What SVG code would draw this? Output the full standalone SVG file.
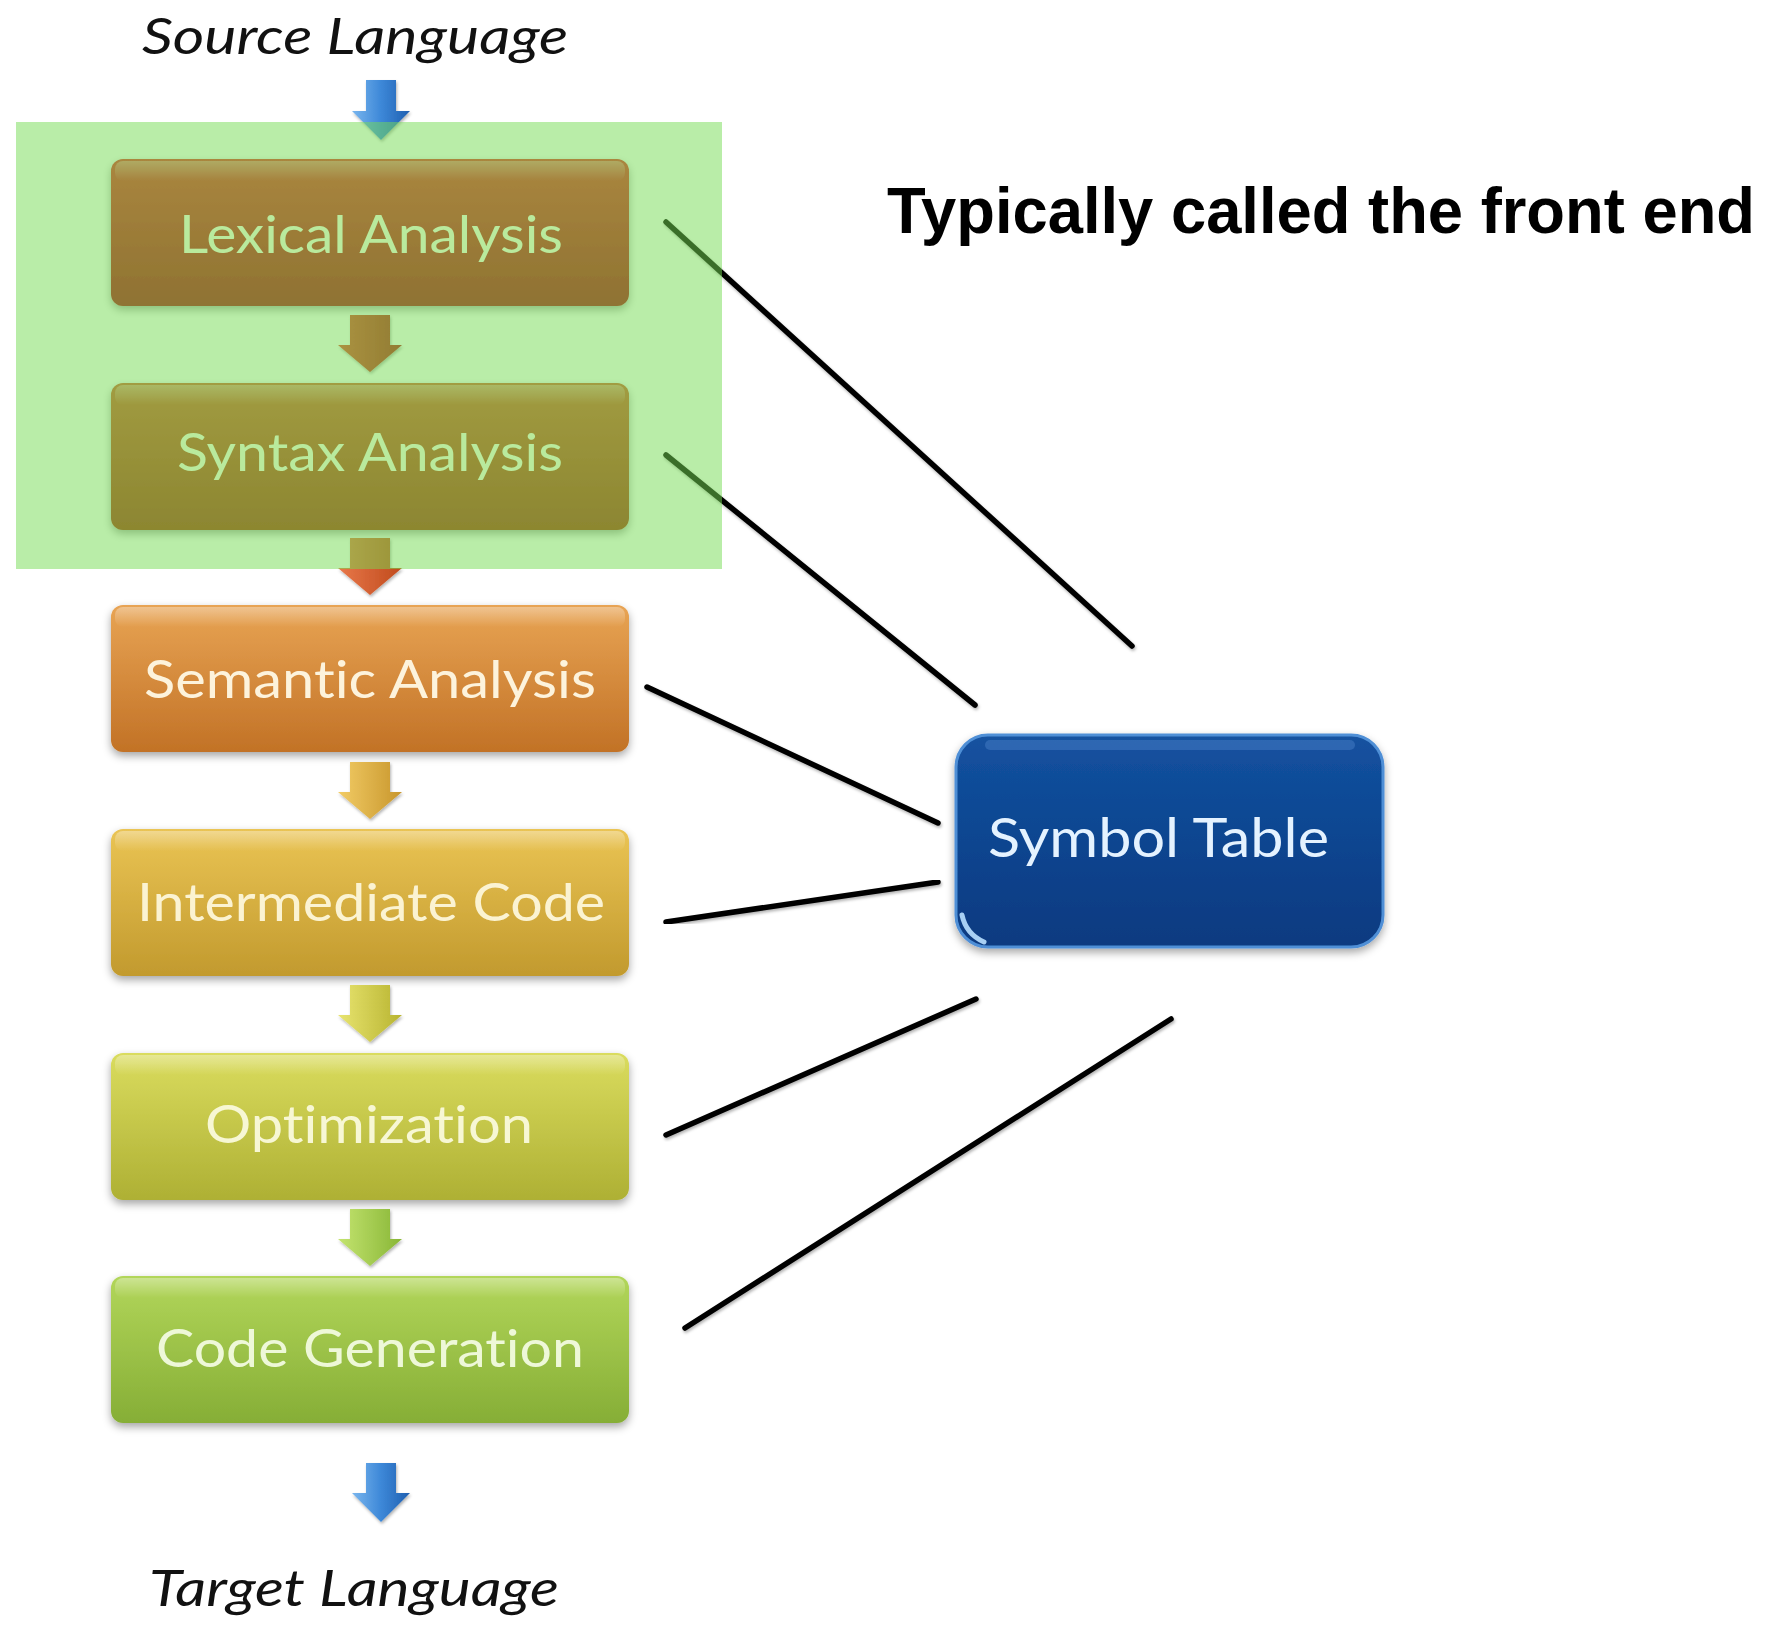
<svg xmlns="http://www.w3.org/2000/svg" width="1778" height="1625" viewBox="0 0 1778 1625">
<defs>
  <filter id="shadow" x="-10%" y="-10%" width="120%" height="130%">
    <feDropShadow dx="0" dy="4" stdDeviation="4" flood-color="#000" flood-opacity="0.35"/>
  </filter>
  <filter id="lshadow" x="-5%" y="-5%" width="110%" height="110%">
    <feDropShadow dx="1" dy="2" stdDeviation="1.5" flood-color="#000" flood-opacity="0.3"/>
  </filter>
  <linearGradient id="gLex" x1="0" y1="0" x2="0" y2="1"><stop offset="0" stop-color="#e0302c"/><stop offset="1" stop-color="#aa0a12"/></linearGradient>
  <linearGradient id="gSyn" x1="0" y1="0" x2="0" y2="1"><stop offset="0" stop-color="#cf5c30"/><stop offset="1" stop-color="#a53010"/></linearGradient>
  <linearGradient id="gSem" x1="0" y1="0" x2="0" y2="1"><stop offset="0" stop-color="#e8a454"/><stop offset="1" stop-color="#c27226"/></linearGradient>
  <linearGradient id="gInt" x1="0" y1="0" x2="0" y2="1"><stop offset="0" stop-color="#eac454"/><stop offset="1" stop-color="#c29a2e"/></linearGradient>
  <linearGradient id="gOpt" x1="0" y1="0" x2="0" y2="1"><stop offset="0" stop-color="#dadc5e"/><stop offset="1" stop-color="#aeb034"/></linearGradient>
  <linearGradient id="gCode" x1="0" y1="0" x2="0" y2="1"><stop offset="0" stop-color="#b2d65a"/><stop offset="1" stop-color="#86ae36"/></linearGradient>
  <linearGradient id="gSym" x1="0" y1="0" x2="0" y2="1"><stop offset="0" stop-color="#1452a0"/><stop offset="0.5" stop-color="#0c4590"/><stop offset="1" stop-color="#0a3a80"/></linearGradient>
  <linearGradient id="gBlue" x1="0" y1="0" x2="1" y2="0"><stop offset="0" stop-color="#7ab6ee"/><stop offset="0.5" stop-color="#3d88d8"/><stop offset="1" stop-color="#1f5fb0"/></linearGradient>
  <linearGradient id="a1" x1="0" y1="0" x2="1" y2="0"><stop offset="0" stop-color="#e24a30"/><stop offset="1" stop-color="#b01c14"/></linearGradient>
  <linearGradient id="a2" x1="0" y1="0" x2="1" y2="0"><stop offset="0" stop-color="#e8784a"/><stop offset="1" stop-color="#c04a1c"/></linearGradient>
  <linearGradient id="a3" x1="0" y1="0" x2="1" y2="0"><stop offset="0" stop-color="#f2cc66"/><stop offset="1" stop-color="#c8962c"/></linearGradient>
  <linearGradient id="a4" x1="0" y1="0" x2="1" y2="0"><stop offset="0" stop-color="#e8e470"/><stop offset="1" stop-color="#b8b430"/></linearGradient>
  <linearGradient id="a5" x1="0" y1="0" x2="1" y2="0"><stop offset="0" stop-color="#c4e470"/><stop offset="1" stop-color="#88b636"/></linearGradient>
  <linearGradient id="hl" x1="0" y1="0" x2="0" y2="1"><stop offset="0" stop-color="#ffffff" stop-opacity="0.35"/><stop offset="1" stop-color="#ffffff" stop-opacity="0"/></linearGradient>
</defs>
<style>
  .box { filter: url(#shadow); }
  .btxt { font-family: Lato, "Open Sans", "DejaVu Sans", sans-serif; font-size: 52px; font-variant-ligatures: none; }
  .lang { font-family: Lato, "Open Sans", "DejaVu Sans", sans-serif; font-style: italic; font-size: 50px; fill: #111; font-variant-ligatures: none; }
  .conn { stroke: #000; stroke-width: 5.5; stroke-linecap: round; fill: none; filter: url(#lshadow); }
  .flow { filter: url(#lshadow); }
</style>
<rect width="1778" height="1625" fill="#ffffff"/>

<g id="source-language">
  <text class="lang" x="142" y="54" textLength="426" lengthAdjust="spacingAndGlyphs">Source Language</text>
</g>

<g id="node-lexical">
  <rect class="box" x="111" y="159" width="518" height="147" rx="12" fill="url(#gLex)"/>
  <rect x="115" y="161" width="510" height="20" rx="8" fill="url(#hl)"/>
  <text class="btxt" x="179" y="253" fill="#fff8e8" textLength="384" lengthAdjust="spacingAndGlyphs">Lexical Analysis</text>
</g>
<g id="node-syntax">
  <rect class="box" x="111" y="383" width="518" height="147" rx="12" fill="url(#gSyn)"/>
  <rect x="115" y="385" width="510" height="20" rx="8" fill="url(#hl)"/>
  <text class="btxt" x="177" y="471" fill="#fff8e8" textLength="386" lengthAdjust="spacingAndGlyphs">Syntax Analysis</text>
</g>
<g id="node-semantic">
  <rect class="box" x="111" y="605" width="518" height="147" rx="12" fill="url(#gSem)"/>
  <rect x="115" y="607" width="510" height="20" rx="8" fill="url(#hl)"/>
  <text class="btxt" x="144" y="698" fill="#fdf3dc" textLength="452" lengthAdjust="spacingAndGlyphs">Semantic Analysis</text>
</g>
<g id="node-intermediate">
  <rect class="box" x="111" y="829" width="518" height="147" rx="12" fill="url(#gInt)"/>
  <rect x="115" y="831" width="510" height="20" rx="8" fill="url(#hl)"/>
  <text class="btxt" x="137" y="921" fill="#fbf3d2" textLength="468" lengthAdjust="spacingAndGlyphs">Intermediate Code</text>
</g>
<g id="node-optimization">
  <rect class="box" x="111" y="1053" width="518" height="147" rx="12" fill="url(#gOpt)"/>
  <rect x="115" y="1055" width="510" height="20" rx="8" fill="url(#hl)"/>
  <text class="btxt" x="205" y="1143" fill="#f7f7d4" textLength="328" lengthAdjust="spacingAndGlyphs">Optimization</text>
</g>
<g id="node-codegen">
  <rect class="box" x="111" y="1276" width="518" height="147" rx="12" fill="url(#gCode)"/>
  <rect x="115" y="1278" width="510" height="20" rx="8" fill="url(#hl)"/>
  <text class="btxt" x="156" y="1367" fill="#eef8d8" textLength="428" lengthAdjust="spacingAndGlyphs">Code Generation</text>
</g>

<g id="node-symbol-table">
  <rect class="box" x="956" y="735" width="427" height="212" rx="32" fill="url(#gSym)" stroke="#4f8fd6" stroke-width="3"/>
  <rect x="985" y="740" width="370" height="10" rx="5" fill="#5b93d8" opacity="0.35"/>
  <path d="M962,915 Q966,934 984,942" stroke="#a8d0f4" stroke-width="5" fill="none" stroke-linecap="round"/>
  <text x="988" y="857" font-family="Lato, 'Open Sans', 'DejaVu Sans', sans-serif" font-size="54" fill="#e4f2ff" textLength="341" lengthAdjust="spacingAndGlyphs">Symbol Table</text>
</g>

<g id="target-language">
  <text class="lang" x="149" y="1606" textLength="410" lengthAdjust="spacingAndGlyphs">Target Language</text>
</g>

<g id="connectors">
  <g id="flow-arrows" class="flow">
    <polygon points="366,80 396,80 396,111 410,111 381,140 352,111 366,111" fill="url(#gBlue)"/>
    <polygon points="350,315 390,315 390,345 402,345 370,372 338,345 350,345" fill="url(#a1)"/>
    <polygon points="350,538 390,538 390,568 402,568 370,595 338,568 350,568" fill="url(#a2)"/>
    <polygon points="350,762 390,762 390,792 402,792 370,819 338,792 350,792" fill="url(#a3)"/>
    <polygon points="350,985 390,985 390,1015 402,1015 370,1042 338,1015 350,1015" fill="url(#a4)"/>
    <polygon points="350,1209 390,1209 390,1239 402,1239 370,1266 338,1239 350,1239" fill="url(#a5)"/>
    <polygon points="366,1463 396,1463 396,1493 410,1493 381,1522 352,1493 366,1493" fill="url(#gBlue)"/>
  </g>
  <g id="symbol-links">
    <line class="conn" x1="666" y1="222" x2="1132" y2="646"/>
    <line class="conn" x1="666" y1="455" x2="975" y2="705"/>
    <line class="conn" x1="647" y1="687" x2="938" y2="823"/>
    <line class="conn" x1="666" y1="922" x2="938" y2="882"/>
    <line class="conn" x1="666" y1="1135" x2="976" y2="999"/>
    <line class="conn" x1="685" y1="1328" x2="1171" y2="1019"/>
  </g>
</g>

<g id="front-end-highlight">
  <rect x="16" y="122" width="706" height="447" fill="rgb(115,219,81)" fill-opacity="0.5"/>
</g>
<g id="front-end-caption">
  <text x="887" y="233" font-family="'Liberation Sans', Arial, sans-serif" font-weight="bold" font-size="64" fill="#000" textLength="868" lengthAdjust="spacingAndGlyphs">Typically called the front end</text>
</g>
</svg>
